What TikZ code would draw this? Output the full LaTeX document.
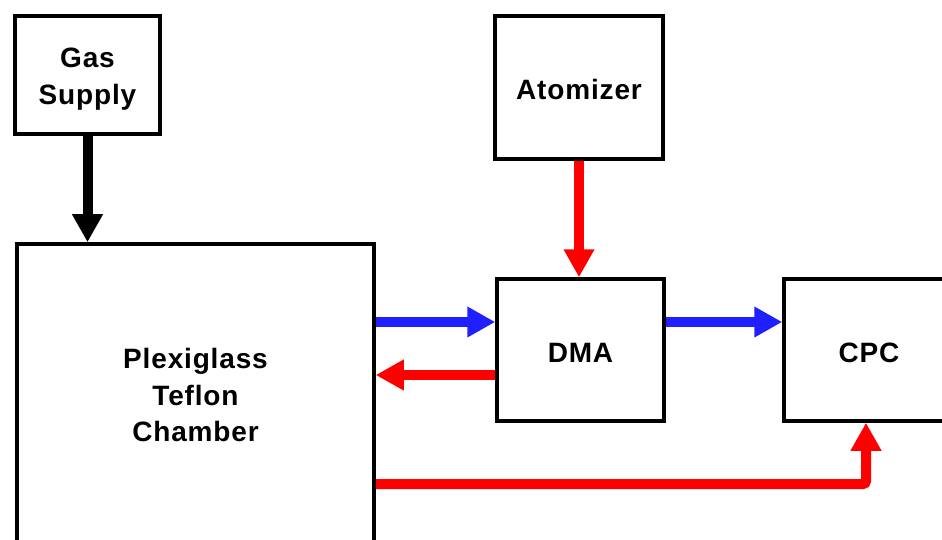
\documentclass[tikz,border=0pt]{standalone}
\usepackage{fontspec}
\setmainfont{Liberation Sans}[LetterSpace=3]
\usetikzlibrary{arrows.meta}
\definecolor{flowblue}{RGB}{32,32,255}
\definecolor{flowred}{RGB}{255,0,0}
\begin{document}
\begin{tikzpicture}[x=1pt,y=1pt,
  box/.style={draw=black,line width=3.5pt,rectangle,inner sep=0pt,fill=white},
  lbl/.style={align=center,inner sep=0pt,font=\fontsize{28}{36.5}\selectfont\bfseries},
  flow/.style={line width=10pt,-{Triangle[width=29pt,length=28pt]}},
]
\useasboundingbox (0,0) rectangle (942,-540);
\begin{scope}
\clip (0,0) rectangle (942,-540);
\node[box,minimum width=145pt,minimum height=118pt] (gas) at (87.5,-75) {};
\node[box,minimum width=168pt,minimum height=143pt] (atom) at (579,-87.5) {};
\node[box,minimum width=357pt,minimum height=300pt] (chamber) at (195.5,-394) {};
\node[box,minimum width=167pt,minimum height=142pt] (dma) at (580.5,-350) {};
\node[box,minimum width=170pt,minimum height=142pt] (cpc) at (869,-350) {};

\node[lbl] (gastext) at ([yshift=-4pt]gas.center) {Gas\\Supply};
\node[lbl] (atomtext) at ([yshift=-2pt]atom.center) {Atomizer};
\node[lbl] (chambertext) at ([yshift=-1pt]chamber.center) {Plexiglass\\Teflon\\Chamber};
\node[lbl] (dmatext) at ([yshift=-2.5pt]dma.center) {DMA};
\node[lbl] (cpctext) at ([yshift=-2.5pt]cpc.center) {CPC};

\coordinate (yb) at (0,-322);
\coordinate (yr) at (0,-375);
\coordinate (yl) at (0,-484);
\coordinate (xl) at (866,0);

\draw[flow,draw=black] (gas.south) -- (gas.south |- chamber.north);
\draw[flow,draw=flowred] (atom.south) -- (atom.south |- dma.north);
\draw[flow,draw=flowblue] (chamber.east |- yb) -- (dma.west |- yb);
\draw[flow,draw=flowred] (dma.west |- yr) -- (chamber.east |- yr);
\draw[flow,draw=flowblue] (dma.east |- yb) -- (cpc.west |- yb);
\draw[flow,draw=flowred,rounded corners=3pt] (chamber.east |- yl) -- (xl |- yl) -- (xl |- cpc.south);
\end{scope}
\end{tikzpicture}
\end{document}
